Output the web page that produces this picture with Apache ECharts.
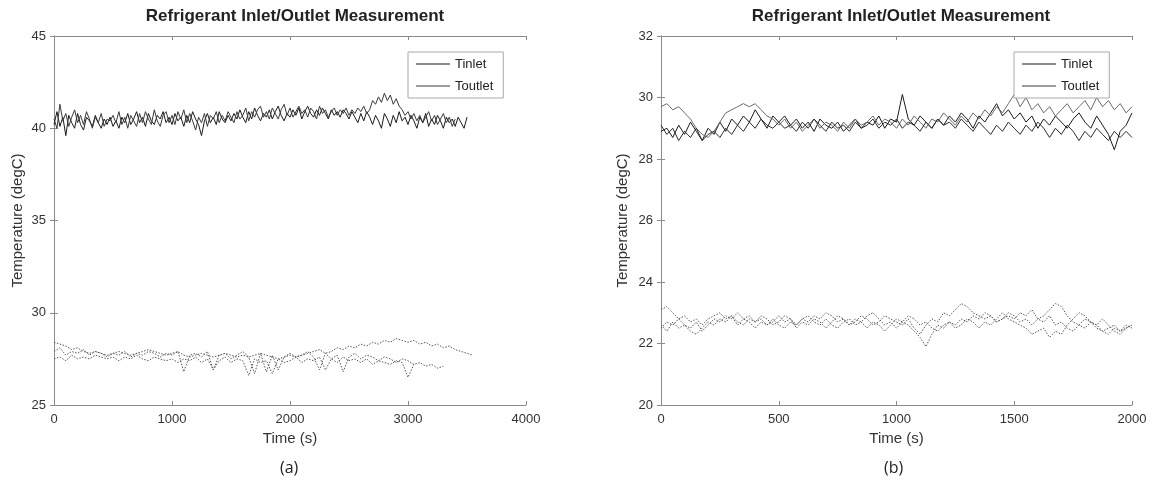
<!DOCTYPE html>
<html><head><meta charset="utf-8">
<script src="https://cdn.jsdelivr.net/npm/echarts@6/dist/echarts.min.js"></script>
<style>html,body{margin:0;padding:0;background:#fff}#c{width:1155px;height:490px}</style>
</head><body><div id="c"></div>
<script>
// ---- Chart (a): sample step 25 s for solid, 50 s for dotted ----
const stepASolid = 25;
const stepADot = 50;
const aTinlet = [
40.2,40.9,40.1,40.6,39.6,40.7,40.3,40.0,40.8,40.2,39.9,40.6,40.4,40.1,40.7,40.3,40.0,40.5,40.2,40.6,
40.1,40.4,40.0,40.6,40.3,40.8,40.2,40.5,40.9,40.3,40.6,40.1,40.8,40.4,40.2,40.7,40.5,40.9,40.3,40.6,
40.2,40.8,40.4,40.6,40.1,40.7,40.3,40.9,40.5,40.2,39.6,40.4,40.8,40.3,40.6,40.2,40.9,40.5,40.3,40.7,
40.4,40.8,40.5,41.0,40.6,40.3,40.9,40.5,41.1,40.7,40.4,40.8,40.6,41.0,40.5,40.9,41.2,40.7,40.4,40.8,
40.6,41.0,40.7,41.1,40.5,40.9,41.2,40.8,40.6,41.0,40.7,41.1,40.8,40.5,41.0,40.7,40.9,40.6,41.0,40.8,
40.5,40.9,40.6,40.3,40.8,40.4,40.9,40.6,40.2,40.7,40.4,40.0,40.8,40.5,40.1,40.7,40.3,40.9,40.4,40.6,
40.2,40.7,40.4,40.0,40.6,40.3,40.8,40.1,40.5,40.2,40.7,40.4,40.0,40.6,40.3,40.5,40.1,40.6,40.3,40.0,
40.6];
const aToutlet = [
40.5,40.0,41.3,40.4,40.8,40.1,40.6,41.0,40.3,40.7,40.2,40.9,40.5,40.0,40.6,40.3,40.8,40.1,40.5,40.4,
40.7,40.3,40.9,40.2,40.6,40.0,40.7,40.4,40.1,40.8,40.3,40.9,40.5,40.2,41.0,40.4,40.1,40.7,40.9,40.3,
40.7,40.2,40.9,40.5,41.0,40.3,40.8,40.4,39.9,40.6,40.3,40.8,40.1,40.7,40.5,40.9,40.3,40.7,40.4,40.9,
40.6,40.3,40.9,40.5,40.7,41.1,40.4,40.9,40.6,41.0,41.2,40.6,40.9,40.5,41.1,40.8,40.5,41.0,41.3,40.7,
41.1,40.6,40.9,41.2,40.8,41.0,40.6,41.1,40.9,40.5,41.2,40.8,41.0,40.6,40.9,41.1,40.7,41.0,40.8,41.1,
40.7,41.0,40.8,41.1,40.9,41.2,40.8,41.0,41.5,41.3,41.7,41.4,41.9,41.5,41.8,41.3,41.6,41.2,41.0,40.7,
40.9,40.5,40.8,40.4,40.7,40.3,40.6,40.9,40.4,40.7,40.2,40.5,40.8,40.3,40.6,40.1,40.5];
const aDot1 = [
28.4,28.3,28.2,28.0,28.1,27.9,27.8,27.9,27.8,27.7,27.8,27.9,27.8,27.7,27.8,27.9,28.0,27.9,27.8,27.7,
27.8,27.9,27.7,27.6,27.7,27.8,27.7,27.6,27.7,27.8,27.7,27.6,27.7,27.6,27.7,27.8,27.7,27.6,27.5,27.6,
27.7,27.6,27.7,27.8,27.9,28.0,27.8,27.9,28.1,28.0,28.2,28.1,28.3,28.2,28.4,28.3,28.5,28.4,28.6,28.5,
28.4,28.5,28.3,28.4,28.2,28.3,28.1,28.2,28.0,27.9,27.8,27.7];
const aDot2 = [
27.9,28.1,27.7,27.9,27.8,28.0,27.7,27.9,27.8,27.6,27.8,27.7,27.9,27.6,27.8,27.7,27.9,27.8,27.6,27.8,
27.7,27.9,26.8,27.7,27.8,27.6,27.9,26.9,27.7,27.8,27.5,27.7,27.9,27.6,26.7,27.8,26.8,27.7,26.9,27.6,
27.8,27.6,27.7,27.9,27.6,26.9,27.8,27.5,27.7,26.8,27.6,27.8,27.5,27.7,27.6,27.4,27.6,27.5,27.3,27.5,
27.4,27.2,27.3,27.1,27.2,27.0,27.1];
const aDot3 = [
27.5,27.6,27.4,27.7,27.5,27.6,27.5,27.7,27.6,27.5,27.6,27.4,27.6,27.5,27.7,27.5,27.4,27.6,27.5,27.4,
27.5,27.3,27.5,27.4,27.6,27.3,27.5,26.9,27.4,27.6,27.3,27.5,27.4,26.6,27.5,27.3,27.4,26.7,27.5,27.3,
27.4,27.6,27.3,27.5,27.4,27.6,26.9,27.5,27.3,27.6,27.4,27.5,27.3,27.5,27.2,27.4,27.3,27.2,27.4,27.3,
26.5,27.2];
// ---- Chart (b): sample step 25 s ----
const stepB = 25;
const bSolid1 = [
29.7,29.8,29.6,29.7,29.5,29.3,29.0,28.8,28.7,28.9,29.2,29.5,29.6,29.7,29.8,29.7,29.8,29.6,29.4,29.3,
29.1,29.3,29.0,29.2,28.9,29.1,29.3,29.0,29.2,29.1,28.9,29.2,29.0,29.3,29.1,29.2,29.4,29.1,29.3,29.2,
29.0,29.3,29.1,29.4,29.2,29.0,29.3,29.2,29.5,29.3,29.1,29.4,29.2,29.5,29.3,29.6,29.4,29.7,29.5,29.8,
30.1,29.7,30.0,29.6,29.8,29.5,29.7,29.4,29.6,29.8,29.5,29.7,29.9,29.6,30.0,29.7,29.9,29.6,29.8,29.5,
29.7];
const bSolid2 = [
28.9,29.0,28.7,29.1,28.8,29.2,28.9,28.6,29.0,28.8,29.2,28.9,29.3,29.1,29.4,29.2,29.6,29.3,29.0,29.4,
29.2,29.4,29.1,29.3,29.0,29.2,28.9,29.3,29.1,29.0,29.2,28.9,29.1,29.3,29.0,29.2,29.1,29.4,29.0,29.3,
29.2,30.1,29.3,29.1,29.4,29.2,29.0,29.3,29.1,29.4,29.2,29.5,29.3,29.0,29.4,29.2,29.5,29.8,29.4,29.6,
29.3,29.5,29.2,29.4,29.0,29.3,29.1,29.4,29.2,29.0,29.3,29.5,29.2,29.0,29.4,29.1,28.8,28.3,28.9,29.1,
29.5];
const bSolid3 = [
29.1,28.8,29.0,28.6,28.9,28.7,29.0,28.6,28.8,28.9,28.7,29.0,28.8,29.1,28.9,29.2,29.0,29.3,29.1,29.0,
29.2,29.0,29.1,28.9,29.2,29.0,29.3,29.1,28.9,29.2,29.0,29.1,28.9,29.2,29.0,29.1,29.3,29.0,29.2,29.1,
29.3,29.0,29.2,29.1,28.9,29.2,29.0,29.3,29.1,29.2,29.0,29.3,29.1,28.9,29.2,29.0,28.8,29.1,28.9,29.2,
29.0,28.8,29.1,28.9,29.2,29.0,28.7,29.0,28.8,29.1,28.9,28.6,28.9,28.7,29.0,28.8,28.6,28.9,28.7,28.9,
28.7];
const bDot1 = [
23.1,23.2,23.0,22.8,22.9,22.7,22.8,22.6,22.8,22.9,23.0,22.8,22.9,22.7,22.6,22.8,22.7,22.9,22.8,22.6,
22.7,22.9,22.8,22.6,22.8,22.7,22.9,22.8,23.0,22.9,22.7,22.8,22.6,22.7,22.9,22.8,22.6,22.7,22.9,22.8,
22.7,22.6,22.8,22.5,22.3,22.6,22.8,22.7,23.0,22.9,23.1,23.3,23.2,23.0,22.9,22.8,22.9,22.7,22.8,22.9,
22.8,23.0,22.9,23.1,22.8,22.7,22.9,22.6,22.7,22.5,22.4,22.6,22.5,22.7,22.6,22.4,22.5,22.6,22.4,22.5,
22.6];
const bDot2 = [
22.5,22.7,22.6,22.8,22.6,22.5,22.7,22.4,22.6,22.8,22.7,22.9,22.8,23.0,22.8,22.9,22.7,22.8,22.6,22.7,
22.9,22.7,22.8,22.5,22.7,22.6,22.8,22.7,22.5,22.7,22.9,22.8,22.6,22.8,22.7,22.9,23.0,22.8,22.6,22.7,
22.5,22.7,22.6,22.4,22.2,21.9,22.3,22.6,22.5,22.7,22.6,22.8,22.7,22.9,22.8,23.0,22.9,22.7,22.8,23.0,
22.9,22.7,22.8,22.6,22.8,22.9,23.1,23.3,23.2,22.9,22.7,22.6,22.8,22.7,22.5,22.4,22.3,22.5,22.4,22.6,
22.5];
const bDot3 = [
22.6,22.4,22.7,22.5,22.6,22.4,22.3,22.5,22.7,22.6,22.8,22.7,22.9,22.6,22.8,22.7,22.5,22.7,22.6,22.8,
22.6,22.5,22.7,22.6,22.8,22.9,22.7,22.6,22.8,22.6,22.5,22.7,22.8,22.6,22.7,22.5,22.7,22.6,22.4,22.6,
22.8,22.7,22.9,22.8,22.6,22.7,22.5,22.4,22.6,22.7,22.5,22.6,22.8,22.7,22.5,22.7,22.6,22.8,23.0,22.8,
22.7,22.6,22.5,22.3,22.4,22.5,22.2,22.4,22.3,22.6,22.8,23.0,22.9,22.7,22.6,22.8,22.6,22.4,22.3,22.5,
22.6];
const legendNames = ['Tinlet','Toutlet'];
const chartTitle = 'Refrigerant Inlet/Outlet Measurement';
const xName = 'Time (s)';
const yName = 'Temperature (degC)';
const subLabels = ['(a)','(b)'];

function pts(vals, step){ return vals.map((v,i)=>[i*step, v]); }

const FONT = 'Liberation Sans';
const axisGrey = '#8a8a8a';
function axesFor(gi, xmax, xint, ymin, ymax, yint, yGap){
  const common = {
    axisLine:{show:true, lineStyle:{color:axisGrey, width:1}},
    axisTick:{show:true, inside:true, length:4, lineStyle:{color:axisGrey}},
    splitLine:{show:false}
  };
  const xs = [
    Object.assign({type:'value', gridIndex:gi, min:0, max:xmax, interval:xint, position:'bottom',
      name:xName, nameLocation:'middle', nameGap:23,
      nameTextStyle:{fontFamily:FONT, fontSize:15, color:'#333'},
      axisLabel:{fontFamily:FONT, fontSize:13, color:'#333', margin:8, formatter:v=>String(v)}}, common),
    Object.assign({type:'value', gridIndex:gi, min:0, max:xmax, interval:xint, position:'top',
      axisLabel:{show:false}}, common)
  ];
  const ys = [
    Object.assign({type:'value', gridIndex:gi, min:ymin, max:ymax, interval:yint, position:'left',
      name:yName, nameLocation:'middle', nameGap:yGap,
      nameTextStyle:{fontFamily:FONT, fontSize:15, color:'#333'},
      axisLabel:{fontFamily:FONT, fontSize:13, color:'#333', margin:8, formatter:v=>String(v)}}, common),
    Object.assign({type:'value', gridIndex:gi, min:ymin, max:ymax, interval:yint, position:'right',
      axisLabel:{show:false}}, common)
  ];
  return {xs, ys};
}
const A = axesFor(0, 4000, 1000, 25, 45, 5, 29);
const B = axesFor(1, 2000, 500, 20, 32, 2, 31);

function solid(name, data, xi, yi, color){
  return {type:'line', name, data, xAxisIndex:xi, yAxisIndex:yi, symbol:'none', silent:true,
    lineStyle:{color, width:1}, itemStyle:{color}, animation:false};
}
function dotted(name, data, xi, yi){
  return {type:'line', name, data, xAxisIndex:xi, yAxisIndex:yi, symbol:'none', silent:true,
    lineStyle:{color:'#555', width:1, type:[1.5,1.5]}, animation:false};
}

function legendAt(left){
  return {
    data: legendNames.map(n=>({name:n, icon:'rect'})), orient:'vertical', left, top:52,
    itemWidth:34, itemHeight:1, itemGap:6,
    borderColor:'#aaa', borderWidth:1, padding:[4,10,4,8], backgroundColor:'#fff',
    textStyle:{fontFamily:FONT, fontSize:13, color:'#222', lineHeight:16}, selectedMode:false
  };
}

const option = {
  animation:false,
  title:[
    {text:chartTitle, left:290, top:3, textAlign:'center', textStyle:{fontFamily:FONT, fontSize:17, fontWeight:'bold', color:'#222'}},
    {text:chartTitle, left:896, top:3, textAlign:'center', textStyle:{fontFamily:FONT, fontSize:17, fontWeight:'bold', color:'#222'}}
  ],
  grid:[
    {left:54, top:36, width:472, height:369},
    {left:661, top:36, width:471, height:369}
  ],
  xAxis:[...A.xs, ...B.xs],
  yAxis:[...A.ys, ...B.ys],
  legend:[legendAt(408), legendAt(1014)],
  series:[
    solid('Tinlet', pts(aTinlet, stepASolid), 0, 0, '#1a1a1a'),
    solid('Toutlet', pts(aToutlet, stepASolid), 0, 0, '#3a3a3a'),
    dotted('a-d1', pts(aDot1, stepADot), 0, 0),
    dotted('a-d2', pts(aDot2, stepADot), 0, 0),
    dotted('a-d3', pts(aDot3, stepADot), 0, 0),
    solid('Tinlet', pts(bSolid2, stepB), 2, 2, '#1a1a1a'),
    solid('Toutlet', pts(bSolid1, stepB), 2, 2, '#6a6a6a'),
    solid('b-s3', pts(bSolid3, stepB), 2, 2, '#2a2a2a'),
    dotted('b-d1', pts(bDot1, stepB), 2, 2),
    dotted('b-d2', pts(bDot2, stepB), 2, 2),
    dotted('b-d3', pts(bDot3, stepB), 2, 2)
  ],
  graphic:[
    {type:'text', left:280, top:460, style:{text:subLabels[0], font:'16px "Open Sans"', fill:'#222'}},
    {type:'text', left:884, top:460, style:{text:subLabels[1], font:'16px "Open Sans"', fill:'#222'}}
  ]
};
const chart = echarts.init(document.getElementById('c'), null, {renderer:'canvas'});
chart.setOption(option);
</script></body></html>
